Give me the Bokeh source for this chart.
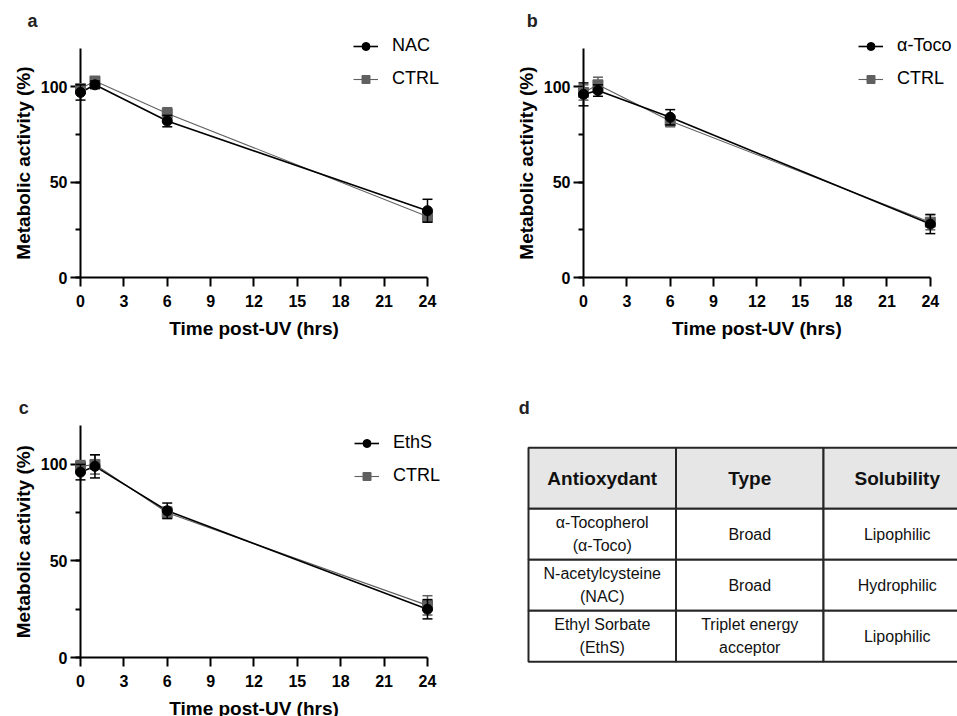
import math
from bokeh.plotting import figure
from bokeh.models import (ColumnDataSource, Legend, LegendItem,
                          FixedTicker, SingleIntervalTicker, Range1d)
from bokeh.layouts import column, row
from bokeh.core.properties import value
from bokeh.embed import file_html
from bokeh.resources import INLINE

# ---------------- data ----------------
time_h = [0, 1, 6, 24]
x_ticks = [0, 3, 6, 9, 12, 15, 18, 21, 24]
y_ticks_interval = 50

nac_mean = [97, 101, 82, 35]
nac_err = [4, 2, 3, 6]
ctrl_a_mean = [99, 103, 86, 32]
ctrl_a_err = [2, 2, 3, 3]

toco_mean = [96, 98, 84, 28]
toco_err = [6, 3, 4, 5]
ctrl_b_mean = [97, 101, 82, 29]
ctrl_b_err = [4, 4, 3, 4]

eths_mean = [96, 99, 76, 25]
eths_err = [4, 6, 4, 5]
ctrl_c_mean = [99, 100, 75, 27]
ctrl_c_err = [3, 5, 3, 5]

table_headers = ["Antioxydant", "Type", "Solubility"]
table_antioxidant = ["α-Tocopherol\n(α-Toco)", "N-acetylcysteine\n(NAC)", "Ethyl Sorbate\n(EthS)"]
table_type = ["Broad", "Broad", "Triplet energy\nacceptor"]
table_solubility = ["Lipophilic", "Hydrophilic", "Lipophilic"]

# ---------------- style ----------------
FONT = "Liberation Sans"
BLACK = "#000000"
GREY = "#606060"
X_LABEL = "Time post-UV (hrs)"
Y_LABEL = "Metabolic activity (%)"


def make_source(mean, err):
    return ColumnDataSource(dict(t=time_h, m=mean,
                                 lo=[m - e for m, e in zip(mean, err)],
                                 hi=[m + e for m, e in zip(mean, err)]))


def add_series(p, src, color, marker, lw):
    p.segment(x0="t", y0="lo", x1="t", y1="hi", source=src, line_color=color,
              line_width=1.5, level="overlay")
    for col in ("lo", "hi"):
        p.scatter("t", col, source=src, marker="dash", size=10, line_color=color,
                  line_width=1.5, level="overlay")
    ln = p.line("t", "m", source=src, line_color=color, line_width=lw)
    sc = p.scatter("t", "m", source=src, marker=marker, size=10,
                   fill_color=color, line_color=color, level="overlay")
    return ln, sc


def label(p, x, y, text, size, angle=0.0, align="center", color=BLACK):
    p.text(x=[x], y=[y], text=[text], angle=angle, text_align=align,
           text_baseline="alphabetic", text_font=value(FONT),
           text_font_size=size, text_font_style="bold", text_color=color,
           level="overlay")


def panel(letter, letter_pos, treat_label, t_mean, t_err, c_mean, c_err, g):
    p = figure(width=g["w"], height=g["h"],
               x_range=Range1d(0, g["x_end"]), y_range=Range1d(0, 130),
               output_backend="svg", toolbar_location=None,
               min_border_left=g["l"], min_border_right=g["r"],
               min_border_top=g["t"], min_border_bottom=g["b"])
    p.grid.visible = False
    p.outline_line_color = None

    xa = p.xaxis[0]
    xa.ticker = FixedTicker(ticks=x_ticks, minor_ticks=[])
    xa.bounds = (0, 24)
    ya = p.yaxis[0]
    ya.ticker = SingleIntervalTicker(interval=y_ticks_interval, num_minor_ticks=2)
    ya.bounds = (0, 120)
    for ax in (xa, ya):
        ax.axis_line_width = 2
        ax.axis_line_color = BLACK
        ax.major_tick_line_width = 2
        ax.major_tick_line_color = BLACK
        ax.minor_tick_line_width = 2
        ax.minor_tick_line_color = BLACK
        ax.major_tick_in = 0
        ax.minor_tick_in = 0
        ax.major_label_text_font = FONT
        ax.major_label_text_font_size = "16px"
        ax.major_label_text_font_style = "bold"
        ax.major_label_text_color = BLACK
    xa.major_tick_out = 9
    xa.minor_tick_out = 0
    xa.major_label_standoff = 8
    ya.major_tick_out = 10
    ya.minor_tick_out = 5
    ya.major_label_standoff = 3

    # axis titles and panel letter
    label(p, 12, g["xlab_y"], X_LABEL, "19px")
    label(p, -3.95, 60, Y_LABEL, "19px", angle=math.pi / 2)
    label(p, letter_pos[0], letter_pos[1], letter, "18px", align="left", color="#222222")

    src_c = make_source(c_mean, c_err)
    src_t = make_source(t_mean, t_err)
    lc, sc = add_series(p, src_c, GREY, "square", 1.1)
    lt, st = add_series(p, src_t, BLACK, "circle", 1.6)

    leg = Legend(items=[LegendItem(label=treat_label, renderers=[lt, st]),
                        LegendItem(label="CTRL", renderers=[lc, sc])],
                 location=g["leg"], padding=0, margin=0, spacing=12,
                 glyph_width=25, glyph_height=20, label_height=20,
                 label_standoff=14, label_text_font=FONT,
                 label_text_font_size="18px", label_text_color=BLACK,
                 border_line_color=None, background_fill_alpha=0)
    p.add_layout(leg)
    return p


pa = panel("a", (-3.67, 134.2), "NAC", nac_mean, nac_err, ctrl_a_mean, ctrl_a_err,
           dict(w=508, h=388, x_end=24.9, l=80, r=68, t=29, b=111, leg=(273, 188),
                xlab_y=-26.5))
pb = panel("b", (-3.92, 134.2), "α-Toco", toco_mean, toco_err, ctrl_b_mean, ctrl_b_err,
           dict(w=449, h=388, x_end=25.88, l=75, r=0, t=29, b=111, leg=(275, 188),
                xlab_y=-26.5))
pc = panel("c", (-4.27, 129.0), "EthS", eths_mean, eths_err, ctrl_c_mean, ctrl_c_err,
           dict(w=508, h=328, x_end=24.9, l=80, r=68, t=18, b=59, leg=(274, 171),
                xlab_y=-26.5))

# ---------------- table panel (d) ----------------
D_W, D_H, D_T, D_B = 449, 328, 18, 59
pd_ = figure(width=D_W, height=D_H, x_range=Range1d(0, D_W),
             y_range=Range1d(D_H - D_B, D_T),
             output_backend="svg", toolbar_location=None,
             min_border_left=0, min_border_right=0,
             min_border_top=D_T, min_border_bottom=D_B,
             x_axis_location=None, y_axis_location=None)
pd_.grid.visible = False
pd_.outline_line_color = None

TBL_L, TBL_T, COL_W, HEAD_H, ROW_H = 20, 59.3, 147.5, 61, 51
n_cols = len(table_headers)
body_cols = [table_antioxidant, table_type, table_solubility]
n_rows = len(table_antioxidant)

hl = [TBL_L + i * COL_W for i in range(n_cols)]
pd_.quad(left=hl, right=[v + COL_W for v in hl], top=[TBL_T] * n_cols,
         bottom=[TBL_T + HEAD_H] * n_cols, fill_color="#e6e6e6",
         line_color="#262626", line_width=2, level="overlay")
bl, br, bt, bb, btxt, bx, by = [], [], [], [], [], [], []
for r in range(n_rows):
    for c in range(n_cols):
        left = TBL_L + c * COL_W
        top = TBL_T + HEAD_H + r * ROW_H
        bl.append(left); br.append(left + COL_W)
        bt.append(top); bb.append(top + ROW_H)
        btxt.append(body_cols[c][r])
        bx.append(left + COL_W / 2); by.append(top + ROW_H / 2)
pd_.quad(left=bl, right=br, top=bt, bottom=bb, fill_color="white",
         line_color="#262626", line_width=2, level="overlay")
pd_.text(x=[v + COL_W / 2 for v in hl], y=[TBL_T + HEAD_H / 2] * n_cols,
         text=table_headers, text_align="center", text_baseline="middle",
         text_font=value(FONT), text_font_size="19px", text_font_style="bold",
         text_color="#111111", level="overlay")
pd_.text(x=bx, y=by, text=btxt, text_align="center", text_baseline="middle",
         text_font=value(FONT), text_font_size="16px", text_color="#111111",
         text_line_height=1.35, level="overlay")
pd_.text(x=[10.3], y=[19], text=["d"], text_align="left",
         text_baseline="alphabetic", text_font=value(FONT),
         text_font_size="18px", text_font_style="bold", text_color="#222222",
         level="overlay")

layout = column(row(pa, pb), row(pc, pd_))
open("out.html", "w").write(file_html(layout, INLINE))
